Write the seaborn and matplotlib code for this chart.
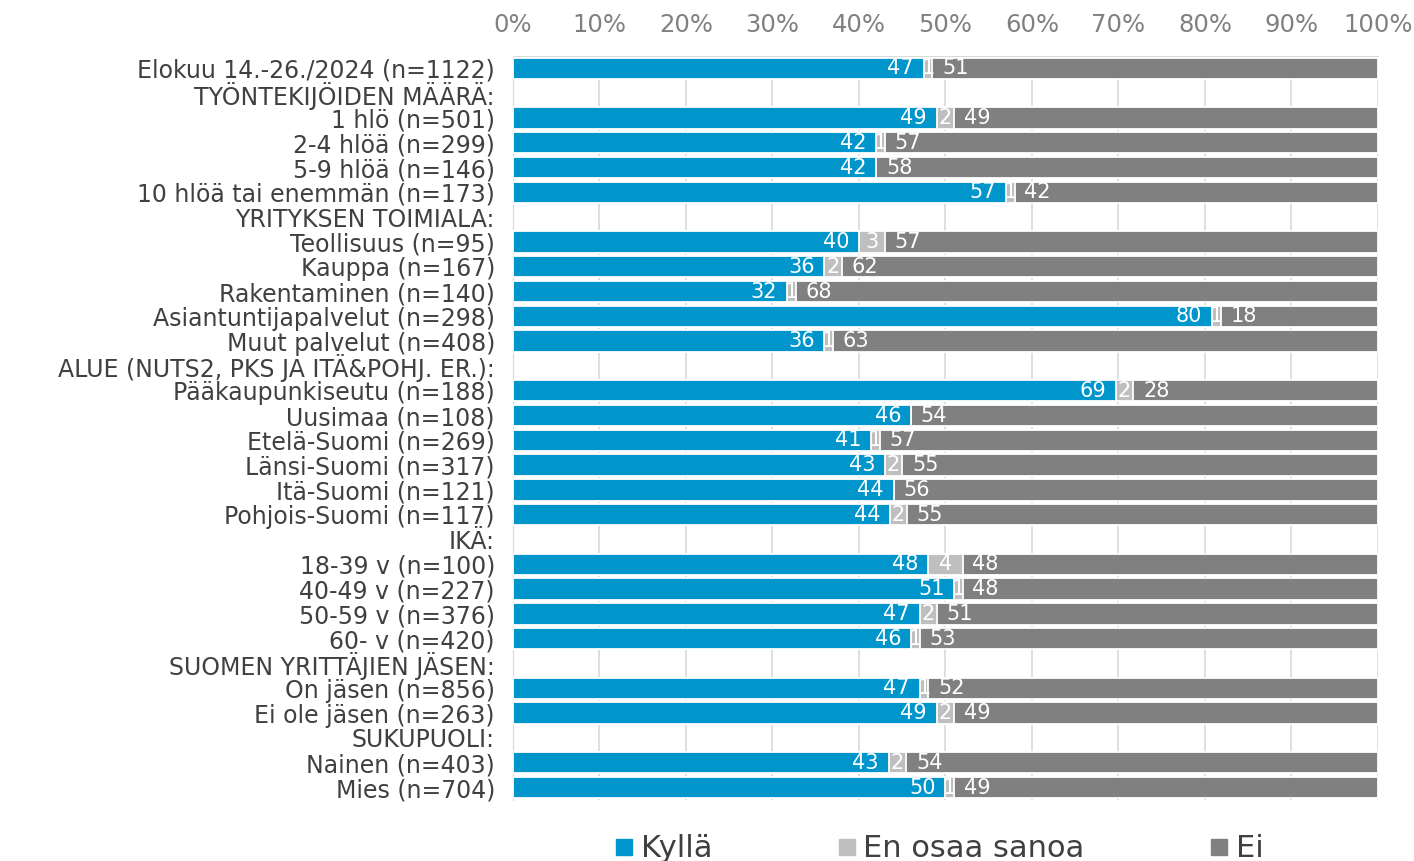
import pandas as pd
import numpy as np
import matplotlib
matplotlib.use('Agg')
import matplotlib.pyplot as plt
import seaborn as sns
from matplotlib.lines import Line2D

## data
labels = [
    'Elokuu 14.-26./2024 (n=1122)',
    'TYÖNTEKIJÖIDEN MÄÄRÄ:',
    '1 hlö (n=501)',
    '2-4 hlöä (n=299)',
    '5-9 hlöä (n=146)',
    '10 hlöä tai enemmän (n=173)',
    'YRITYKSEN TOIMIALA:',
    'Teollisuus (n=95)',
    'Kauppa (n=167)',
    'Rakentaminen (n=140)',
    'Asiantuntijapalvelut (n=298)',
    'Muut palvelut (n=408)',
    'ALUE (NUTS2, PKS JA ITÄ&POHJ. ER.):',
    'Pääkaupunkiseutu (n=188)',
    'Uusimaa (n=108)',
    'Etelä-Suomi (n=269)',
    'Länsi-Suomi (n=317)',
    'Itä-Suomi (n=121)',
    'Pohjois-Suomi (n=117)',
    'IKÄ:',
    '18-39 v (n=100)',
    '40-49 v (n=227)',
    '50-59 v (n=376)',
    '60- v (n=420)',
    'SUOMEN YRITTÄJIEN JÄSEN:',
    'On jäsen (n=856)',
    'Ei ole jäsen (n=263)',
    'SUKUPUOLI:',
    'Nainen (n=403)',
    'Mies (n=704)',
]
# header rows = nan
kylla = [47, np.nan, 49, 42, 42, 57, np.nan, 40, 36, 32, 80, 36, np.nan, 69, 46, 41, 43, 44, 44,
         np.nan, 48, 51, 47, 46, np.nan, 47, 49, np.nan, 43, 50]
eos = [1, np.nan, 2, 1, 0, 1, np.nan, 3, 2, 1, 1, 1, np.nan, 2, 0, 1, 2, 0, 2,
       np.nan, 4, 1, 2, 1, np.nan, 1, 2, np.nan, 2, 1]
ei = [51, np.nan, 49, 57, 58, 42, np.nan, 57, 62, 68, 18, 63, np.nan, 28, 54, 57, 55, 56, 55,
      np.nan, 48, 48, 51, 53, np.nan, 52, 49, np.nan, 54, 49]

series_names = ['Kyllä', 'En osaa sanoa', 'Ei']
colors = ['#0095CB', '#BFBFBF', '#808080']

df = pd.DataFrame({'label': labels, 'kylla': kylla, 'eos': eos, 'ei': ei})
tot = df[['kylla', 'eos', 'ei']].sum(axis=1, min_count=1)
# 100 % pinottu
df['c1'] = df['kylla'] / tot * 100
df['c2'] = (df['kylla'] + df['eos']) / tot * 100
df['c3'] = tot / tot * 100

## piirto
sns.set_style('white')
plt.rcParams['font.family'] = ['DejaVu Sans']

fig = plt.figure(figsize=(14.14, 8.61), dpi=100)
ax = fig.add_axes([0.3628, 0.0709, 0.6117, 0.8641])

kw = dict(y='label', orient='h', order=labels, edgecolor='white', linewidth=1.3,
          width=0.86, saturation=1, ax=ax, zorder=3)
sns.barplot(data=df, x='c3', color=colors[2], **kw)
sns.barplot(data=df, x='c2', color=colors[1], **kw)
sns.barplot(data=df, x='c1', color=colors[0], **kw)

# arvot
for i, row in df.iterrows():
    if np.isnan(row['kylla']):
        continue
    ax.annotate(f"{int(row['kylla'])}", (row['c1'], i), xytext=(-7, 0), textcoords='offset points',
                ha='right', va='center', color='white', fontsize=15, zorder=5)
    if row['eos'] > 0:
        ax.text((row['c1'] + row['c2']) / 2, i, f"{int(row['eos'])}", ha='center', va='center',
                color='white', fontsize=15, zorder=5)
    ax.annotate(f"{int(row['ei'])}", (row['c2'], i), xytext=(7, 0), textcoords='offset points',
                ha='left', va='center', color='white', fontsize=15, zorder=5)

ax.set_xlim(0, 100)
ax.set_ylim(len(labels) - 0.5, -0.5)
ax.set_xticks(np.arange(0, 101, 10))
ax.set_xticklabels([f'{t}%' for t in range(0, 101, 10)])
ax.xaxis.tick_top()
ax.tick_params(axis='x', length=0, pad=14, labelsize=17.5, labelcolor='#808080')
ax.tick_params(axis='y', length=0, pad=13, labelsize=17, labelcolor='#404040')
ax.set_xlabel('')
ax.set_ylabel('')
ax.grid(axis='x', color='#D9D9D9', linewidth=1.2, zorder=0)
ax.set_axisbelow(True)
for s in ['right', 'bottom']:
    ax.spines[s].set_visible(False)
for s in ['top', 'left']:
    ax.spines[s].set_color('#D9D9D9')

handles = [Line2D([], [], marker='s', linestyle='', markersize=11, color=c) for c in colors]
fig.legend(handles, series_names, loc='center', bbox_to_anchor=(0.662, 0.014), ncol=3,
           frameon=False, fontsize=22, handletextpad=0.05, columnspacing=3.9,
           labelcolor='#404040', handlelength=1.0)

plt.savefig('out.png', dpi=100)
